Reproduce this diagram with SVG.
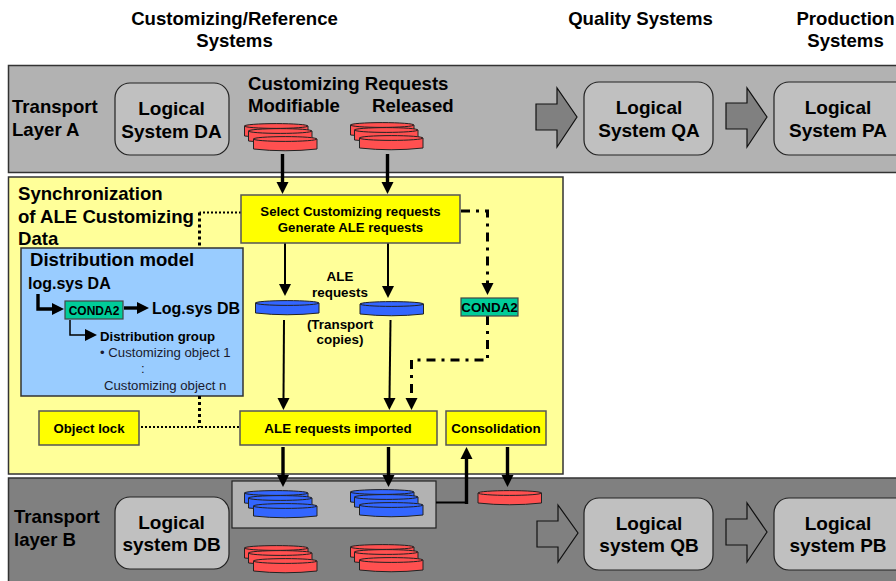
<svg xmlns="http://www.w3.org/2000/svg" width="896" height="581" viewBox="0 0 896 581">
<style>
text{font-family:"Liberation Sans",Arial,sans-serif;font-weight:700;fill:#000}
.m{text-anchor:middle}
.t19{font-size:19px}.t18{font-size:18.6px}.t16{font-size:16px}.t13{font-size:13.4px}.t12{font-size:13.2px}.t125{font-size:12px}
.r{font-weight:400;font-size:13.2px;fill:#1a1a2e}
.band{stroke:#333;stroke-width:1.5}
.sys{fill:#c0c0c0;stroke:#222;stroke-width:1.2}
.yl{fill:#ff0;stroke:#555;stroke-width:1.5}
.gr{fill:#0c9;stroke:#444;stroke-width:1.2}
.blk{fill:#808080;stroke:#111;stroke-width:1.2}
.c{fill:none;stroke:#000}
.w4{stroke-width:3.4}.w2{stroke-width:2}
.dot{stroke-width:2;stroke-dasharray:2 2}
.dot3{stroke-width:3;stroke-dasharray:3 3}
.dd{stroke-width:3;stroke-dasharray:9 6 3 6}
.red{fill:#ff5050}.blu{fill:#36f}
.ds{stroke:#222;stroke-width:1}
</style>
<defs>
<marker id="h" markerUnits="userSpaceOnUse" markerWidth="13" markerHeight="14" refX="0" refY="7" orient="auto"><path d="M0 1L12 7L0 13Z" fill="#000"/></marker>
<g id="disk"><path d="M.5 3V13Q32 16.500 64 13V3Z"/><ellipse cx="32.2" cy="3" rx="31.7" ry="2.4"/></g>
<g id="stack"><use href="#disk"/><use href="#disk" x="4" y="5"/><use href="#disk" x="9" y="13"/></g>
</defs>
<rect width="896" height="581" fill="#fff"/>
<rect id="layer-a" class="band" x="8.5" y="65.5" width="895" height="107" fill="#b2b2b2"/>
<rect id="layer-b" class="band" x="8.5" y="478" width="895" height="110" fill="#808080"/>
<rect id="sync-panel" class="band" x="8.5" y="177" width="554.5" height="297" fill="#ff9"/>
<g id="titles">
<text class="t18 m" x="234.500" y="25">Customizing/Reference</text>
<text class="t18 m" x="234.500" y="47">Systems</text>
<text class="t18 m" x="640.500" y="25">Quality Systems</text>
<text class="t18 m" x="845.500" y="25">Production</text>
<text class="t18 m" x="845.500" y="47">Systems</text>
</g>
<g id="copy-box"><rect x="232" y="481" width="204" height="47" fill="#b2b2b2" stroke="#222" stroke-width="1.2"/></g>
<g id="distribution-model"><rect x="21" y="248" width="222" height="148" fill="#9cf" stroke="#333" stroke-width="1.5"/></g>
<g id="connectors">
<path class="c w4" d="M282.500 154V182" marker-end="url(#h)"/>
<path class="c w4" d="M387.500 154V182" marker-end="url(#h)"/>
<path class="c w2" d="M285 243V284" marker-end="url(#h)"/>
<path class="c w2" d="M388 243V286" marker-end="url(#h)"/>
<path class="c w2" d="M284 320L283.500 398" marker-end="url(#h)"/>
<path class="c w2" d="M390.500 320L389.500 398" marker-end="url(#h)"/>
<path class="c dot" d="M241 212.500H199.500"/>
<path class="c dot3" d="M199.500 212.500V248"/>
<path class="c dot3" d="M199.500 396V427"/>
<path class="c dot" d="M141 427H239"/>
<path class="c dd" d="M461 211H487.500V283" marker-end="url(#h)"/>
<path class="c dd" d="M487.500 316V360H411.500V398" marker-end="url(#h)"/>
<path class="c w4" d="M283 447V475" marker-end="url(#h)"/>
<path class="c w4" d="M388.500 447V475" marker-end="url(#h)"/>
<path class="c w4" d="M507.500 447V475" marker-end="url(#h)"/>
<path class="c w2" d="M436 502.500H466.500"/>
<path class="c w4" d="M466.500 504V459" marker-end="url(#h)"/>
<path class="c w4" d="M38 294V309H52" marker-end="url(#h)"/>
<path class="c w4" d="M124 308H137" marker-end="url(#h)"/>
<path class="c" stroke-width="1.5" d="M70 320V335H85" marker-end="url(#h)"/>
</g>
<g id="layer-a-label"><text class="t18" x="12" y="113">Transport</text><text class="t18" x="12" y="136">Layer A</text></g>
<g id="system-da"><rect class="sys" x="115" y="83" width="114" height="72" rx="15"/><text class="t19 m" x="171.500" y="115">Logical</text><text class="t19 m" x="171.500" y="138">System DA</text></g>
<g id="requests-label"><text class="t18" x="248" y="90">Customizing Requests</text><text class="t18" x="248" y="112">Modifiable</text><text class="t18" x="372" y="112">Released</text></g>
<g id="red-modifiable" class="red ds"><use href="#stack" x="244" y="123"/></g>
<g id="red-released" class="red ds"><use href="#stack" x="350" y="122"/></g>
<g id="arrow-a1"><path class="blk" d="M536 104H557V88L577 117L557 147V130H536Z"/></g>
<g id="system-qa"><rect class="sys" x="584" y="82" width="129" height="73" rx="15"/><text class="t19 m" x="649" y="114">Logical</text><text class="t19 m" x="649" y="137">System QA</text></g>
<g id="arrow-a2"><path class="blk" d="M726 103H747V88L767 117L747 147V129H726Z"/></g>
<g id="system-pa"><rect class="sys" x="774" y="82" width="140" height="73" rx="15"/><text class="t19 m" x="838" y="114">Logical</text><text class="t19 m" x="838" y="137">System PA</text></g>
<g id="sync-label"><text class="t18" x="18" y="200">Synchronization</text><text class="t18" x="18" y="223">of ALE Customizing</text><text class="t18" x="18" y="245">Data</text></g>
<g id="select"><rect class="yl" x="241" y="195" width="219" height="48"/><text class="t12 m" x="350.500" y="216">Select Customizing requests</text><text class="t12 m" x="350.500" y="232">Generate ALE requests</text></g>
<g id="dm-content">
<text class="t18" x="30" y="266">Distribution model</text>
<text class="t16" x="28" y="289">log.sys DA</text>
<rect class="gr" x="65" y="301" width="58" height="18"/>
<text class="t125 m" x="94" y="315">CONDA2</text>
<text class="t16" x="152" y="314">Log.sys DB</text>
<text class="t12" x="100" y="341">Distribution group</text>
<text class="r" x="100" y="357">• Customizing object 1</text>
<text class="r" x="141" y="373">:</text>
<text class="r" x="104" y="390">Customizing object n</text>
</g>
<g id="blue-1" class="blu ds"><use href="#disk" x="255" y="300"/></g>
<g id="blue-2" class="blu ds"><use href="#disk" x="359.500" y="301"/></g>
<g id="ale-label"><text class="t13 m" x="340" y="281">ALE</text><text class="t13 m" x="340" y="297">requests</text><text class="t13 m" x="340" y="329">(Transport</text><text class="t13 m" x="340" y="344">copies)</text></g>
<g id="conda2"><rect class="gr" x="461" y="298" width="57" height="18"/><text class="t13 m" x="489.500" y="312">CONDA2</text></g>
<g id="object-lock"><rect class="yl" x="39" y="411" width="100" height="34"/><text class="t12 m" x="89" y="433">Object lock</text></g>
<g id="ale-imported"><rect class="yl" x="240" y="411" width="197" height="34"/><text class="t13 m" x="338" y="433">ALE requests imported</text></g>
<g id="consolidation"><rect class="yl" x="446" y="411" width="100" height="34"/><text class="t13 m" x="496" y="433">Consolidation</text></g>
<g id="layer-b-label"><text class="t18" x="14" y="523">Transport</text><text class="t18" x="14" y="546">layer B</text></g>
<g id="system-db"><rect class="sys" x="115" y="497" width="114" height="72" rx="15"/><text class="t19 m" x="171.500" y="529">Logical</text><text class="t19 m" x="171.500" y="551">system DB</text></g>
<g id="blue-stack-1" class="blu ds"><use href="#stack" x="244" y="490"/></g>
<g id="blue-stack-2" class="blu ds"><use href="#stack" x="350" y="489"/></g>
<g id="red-stack-1" class="red ds"><use href="#stack" x="244" y="545"/></g>
<g id="red-stack-2" class="red ds"><use href="#stack" x="350" y="544"/></g>
<g id="red-single" class="red ds"><use href="#disk" x="477.500" y="490"/></g>
<g id="arrow-b1"><path class="blk" d="M537 521H558V505L578 533L558 562V547H537Z"/></g>
<g id="system-qb"><rect class="sys" x="584" y="498" width="129" height="72" rx="15"/><text class="t19 m" x="649" y="530">Logical</text><text class="t19 m" x="649" y="552">system QB</text></g>
<g id="arrow-b2"><path class="blk" d="M726 519H747V503L767 532L747 562V545H726Z"/></g>
<g id="system-pb"><rect class="sys" x="774" y="498" width="140" height="72" rx="15"/><text class="t19 m" x="838" y="530">Logical</text><text class="t19 m" x="838" y="552">system PB</text></g>
</svg>
